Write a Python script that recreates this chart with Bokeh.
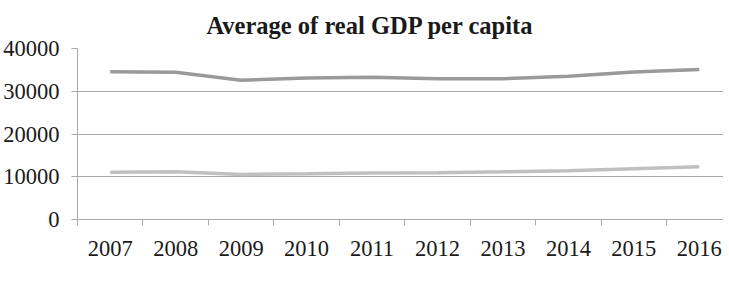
from bokeh.plotting import figure
from bokeh.models import FixedTicker, NumeralTickFormatter, Legend, LegendItem, Range1d
from bokeh.embed import file_html
from bokeh.resources import INLINE

years = [2007, 2008, 2009, 2010, 2011, 2012, 2013, 2014, 2015, 2016]
nms = [11060, 11150, 10550, 10680, 10900, 10950, 11150, 11390, 11860, 12330]
oms = [34590, 34450, 32560, 33100, 33270, 32950, 32950, 33500, 34520, 35060]
y_ticks = [0, 10000, 20000, 30000, 40000]
title_text = "Average of real GDP per capita"

FONT = "Liberation Serif"
GRID = "#a9a9a9"
TXT = "#1a1a1a"

p = figure(frame_width=646, frame_height=171, output_backend="svg", toolbar_location=None,
           min_border_left=75, min_border_right=0, min_border_top=48, min_border_bottom=0,
           x_range=Range1d(2006.5, 2016.37), y_range=Range1d(0, 40000))
p.outline_line_color = None

p.title.text = title_text
p.title.text_font = FONT
p.title.text_font_size = "24.5px"
p.title.text_font_style = "bold"
p.title.text_color = TXT
p.title.align = "left"
p.title.offset = 129
p.title.standoff = 19

l1 = p.line(years, nms, line_color="#c0c0c0", line_width=3.5)
l2 = p.line(years, oms, line_color="#9a9a9a", line_width=3.5)

xa = p.xaxis[0]
xa.ticker = FixedTicker(ticks=years, minor_ticks=[y - 0.5 for y in years])
xa.major_tick_out = 0
xa.major_tick_in = 0
xa.minor_tick_out = 6
xa.minor_tick_in = 0
xa.minor_tick_line_color = GRID
xa.axis_line_color = GRID
xa.major_label_text_font = FONT
xa.major_label_text_font_size = "22.5px"
xa.major_label_text_color = TXT
xa.major_label_standoff = 15

ya = p.yaxis[0]
ya.ticker = FixedTicker(ticks=y_ticks)
ya.formatter = NumeralTickFormatter(format="0")
ya.minor_tick_line_color = None
ya.major_tick_out = 6
ya.major_tick_in = 0
ya.major_tick_line_color = GRID
ya.axis_line_color = GRID
ya.major_label_text_font = FONT
ya.major_label_text_font_size = "22.5px"
ya.major_label_text_color = TXT
ya.major_label_standoff = 12

p.xgrid.grid_line_color = None
p.ygrid.grid_line_color = GRID
p.ygrid.grid_line_width = 1

legend = Legend(items=[LegendItem(label="NMS", renderers=[l1]),
                       LegendItem(label="OMS", renderers=[l2])],
                orientation="horizontal", location="top_center")
legend.label_text_font = FONT
legend.label_text_font_size = "22px"
legend.label_text_color = TXT
legend.label_height = 18
legend.glyph_height = 18
legend.glyph_width = 50
legend.label_standoff = 6
legend.label_width = 89
legend.spacing = 0
legend.padding = 0
legend.margin = 2
legend.border_line_color = None
legend.background_fill_alpha = 0
p.add_layout(legend, "below")

open("out.html", "w").write(file_html(p, INLINE))
